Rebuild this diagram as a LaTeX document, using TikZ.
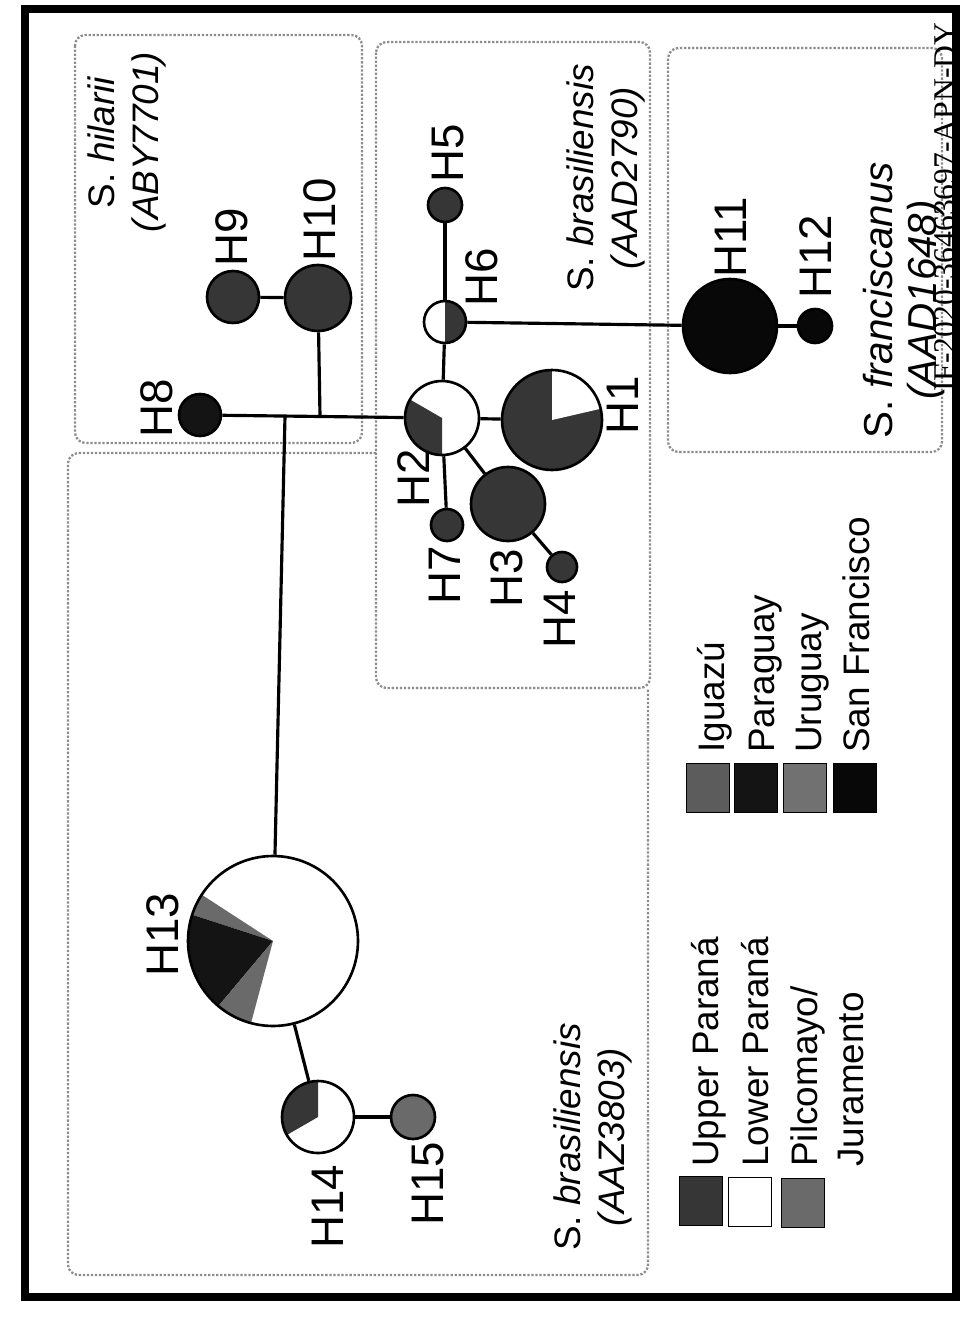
\documentclass[tikz,border=0pt]{standalone}
\usepackage{fontspec}
\setmainfont{Liberation Sans}
\newfontfamily\stampfont{Liberation Serif}
\usetikzlibrary{calc}
\definecolor{upperpar}{HTML}{363636}
\definecolor{paraguay}{HTML}{141414}
\definecolor{pilco}{HTML}{6A6A6A}
\definecolor{iguazu}{HTML}{5C5C5C}
\definecolor{uruguay}{HTML}{717171}
\definecolor{sanfran}{HTML}{080808}
\definecolor{grpline}{HTML}{8C8C8C}

\newcommand\pieslice[3]{\fill[#3] (path picture bounding box.center) -- ++(#1:3cm) arc[start angle=#1, end angle=#2, radius=3cm] -- cycle;}

\begin{document}
\begin{tikzpicture}[x=0.02cm, y=-0.02cm,
  hap/.style={circle, draw, line width=1.5pt, inner sep=0pt, minimum size=#1*0.4mm},
  link/.style={line width=1.8pt},
  grp/.style={draw=grpline, densely dotted, line width=1.3pt, rounded corners=6pt},
  hlab/.style={rotate=90, inner sep=0pt, font=\fontsize{26}{30}\selectfont},
  sp/.style={rotate=90, align=center, inner sep=0pt, font=\fontsize{21}{25}\selectfont},
  leg/.style={rotate=90, anchor=base west, inner sep=0pt, font=\fontsize{21}{26}\selectfont},
  swatch/.style={draw, line width=1pt, minimum width=8.6mm, minimum height=9.8mm, inner sep=0pt}]

% Background and frame
\useasboundingbox (0,0) rectangle (963,1318);
\clip (0,0) rectangle (963,1318);
\fill[white] (0,0) rectangle (963,1318);
\draw[line width=4.5pt] (25,9) rectangle (956,1297);

% Species groups
\draw[grp] (75,35) rectangle (362,443);
\draw[grp] (376,42) rectangle (650,688);
\draw[grp] (668,48) rectangle (942,452);
\draw[grp] (376,453) -- (68,453) -- (68,1275) -- (648,1275) -- (648,688);

% Haplotypes
\node[hap=21, fill=paraguay] (h8) at (200,415) {};
\node[hap=26, fill=upperpar] (h9) at (233,297) {};
\node[hap=33, fill=upperpar] (h10) at (318,298) {};
\node[hap=17, fill=upperpar] (h5) at (445,205) {};
\node[hap=21, fill=white, path picture={\pieslice{-90}{90}{upperpar}}] (h6) at (445,322) {};
\node[hap=37, fill=white, path picture={\pieslice{150}{270}{upperpar}}] (h2) at (442,418) {};
\node[hap=50, fill=upperpar, path picture={\pieslice{13}{90}{white}}] (h1) at (552,420) {};
\node[hap=16, fill=upperpar] (h7) at (447,525) {};
\node[hap=37, fill=upperpar] (h3) at (508,504) {};
\node[hap=15, fill=upperpar] (h4) at (562,567) {};
\node[hap=47, fill=sanfran] (h11) at (730,326) {};
\node[hap=17, fill=sanfran] (h12) at (815,326) {};
\node[hap=85, fill=white, path picture={\pieslice{147}{162}{pilco}\pieslice{162}{230}{paraguay}\pieslice{230}{255}{pilco}}] (h13) at (273,941) {};
\node[hap=36, fill=white, path picture={\pieslice{90}{210}{upperpar}}] (h14) at (318,1117) {};
\node[hap=22, fill=pilco] (h15) at (413,1117) {};

% Links
\coordinate (j13) at (285,416);
\coordinate (j10) at (320,416);
\draw[link] (h8) -- (h2);
\draw[link] (j13) -- (h13);
\draw[link] (j10) -- (h10);
\draw[link] (h9) -- (h10);
\draw[link] (h2) -- (h6);
\draw[link] (h6) -- (h5);
\draw[link] (h6) -- (h11);
\draw[link] (h11) -- (h12);
\draw[link] (h2) -- (h1);
\draw[link] (h2) -- (h7);
\draw[link] (h2) -- (h3);
\draw[link] (h3) -- (h4);
\draw[link] (h13) -- (h14);
\draw[link] (h14) -- (h15);

% Haplotype labels
\node[hlab] (l8) at (157,408) {H8};
\node[hlab] (l9) at (232,237) {H9};
\node[hlab] (l10) at (320,220) {H10};
\node[hlab] (l5) at (448,153) {H5};
\node[hlab] (l6) at (482,277) {H6};
\node[hlab] (l2) at (414,478) {H2};
\node[hlab] (l7) at (445,575) {H7};
\node[hlab] (l3) at (507,578) {H3};
\node[hlab] (l4) at (560,619) {H4};
\node[hlab] (l1) at (623,405) {H1};
\node[hlab] (l11) at (731,237) {H11};
\node[hlab] (l12) at (816,257) {H12};
\node[hlab] (l13) at (163,935) {H13};
\node[hlab] (l14) at (328,1207) {H14};
\node[hlab] (l15) at (428,1184) {H15};

% Species labels
\node[sp] (sp-hil) at (127,142) {S. \textit{hilarii}\\\textit{(ABY7701)}};
\node[sp] (sp-bra1) at (606,178) {S. \textit{brasiliensis}\\\textit{(AAD2790)}};
\node[sp, font=\fontsize{23}{25}\selectfont] (sp-fra) at (904,300) {S. \textit{franciscanus}\\\textit{(AAD1648)}};
\node[sp] (sp-bra2) at (593,1137) {S. \textit{brasiliensis}\\\textit{(AAZ3803)}};

% Legend: basins
\node[swatch, fill=upperpar] (k-up) at (701,1201) {};
\node[swatch, fill=white] (k-lp) at (750,1202) {};
\node[swatch, fill=pilco] (k-pj) at (803,1203) {};
\node[leg] (t-up) at (718,1167) {Upper Paraná};
\node[leg] (t-lp) at (768,1167) {Lower Paraná};
\node[leg] (t-pj) at (817,1167) {Pilcomayo/};
\node[leg] (t-pj2) at (863,1167) {Juramento};

% Legend: rivers
\node[swatch, fill=iguazu] (k-ig) at (708,788) {};
\node[swatch, fill=paraguay] (k-py) at (756,788) {};
\node[swatch, fill=uruguay] (k-uy) at (805,788) {};
\node[swatch, fill=sanfran] (k-sf) at (855,788) {};
\node[leg] (t-ig) at (724,753) {Iguazú};
\node[leg] (t-py) at (774,753) {Paraguay};
\node[leg] (t-uy) at (821,753) {Uruguay};
\node[leg] (t-sf) at (869,753) {San Francisco};

% Stamp
\node[rotate=90, anchor=west, inner sep=0pt, font=\stampfont\fontsize{18}{22}\selectfont] (stamp) at (945,392) {IF-2020-36463697-APN-DY};

\end{tikzpicture}
\end{document}
